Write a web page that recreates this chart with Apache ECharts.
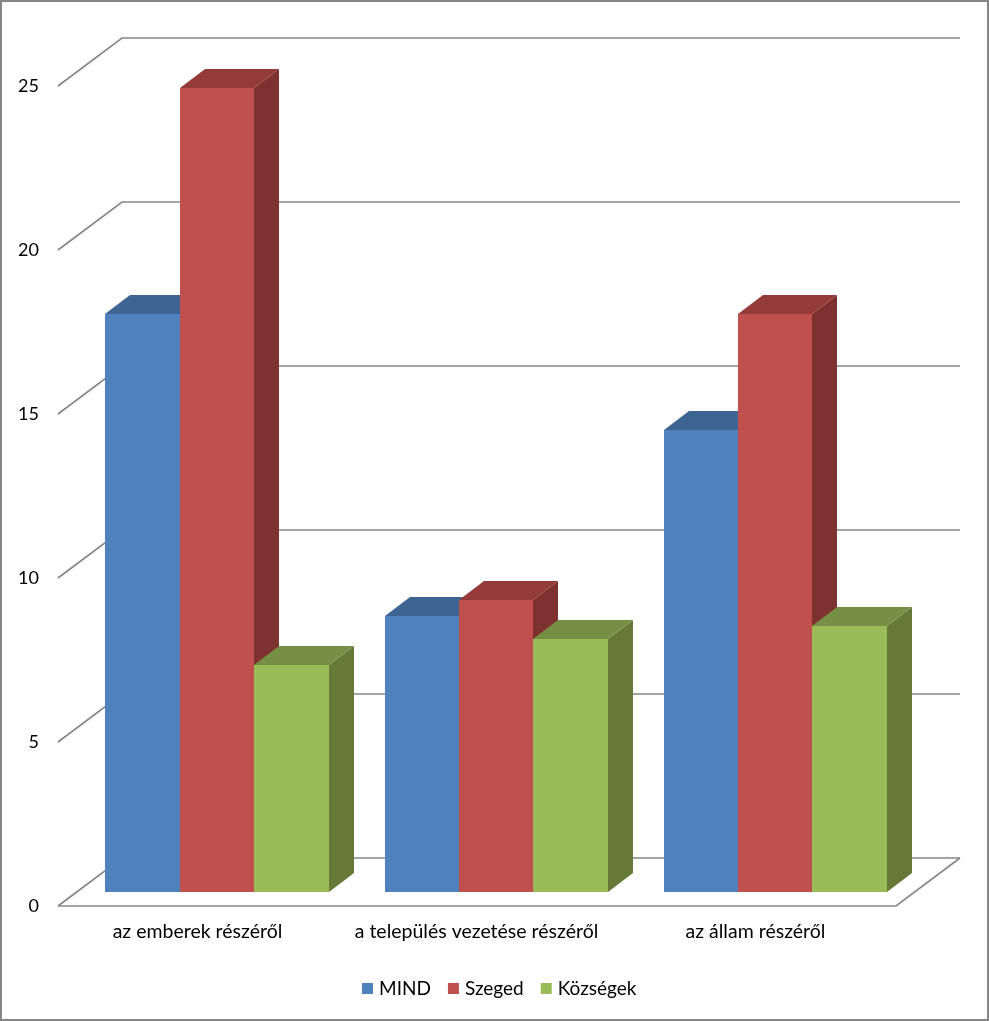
<!DOCTYPE html>
<html>
<head>
<meta charset="utf-8">
<style>html,body{margin:0;padding:0;background:#fff}#c{width:989px;height:1021px}</style>
<script src="https://cdn.jsdelivr.net/npm/echarts@6/dist/echarts.min.js"></script>
</head>
<body>
<div id="c"></div>
<script>
const categories = ['az emberek részéről', 'a település vezetése részéről', 'az állam részéről'];
const mind = [17.62, 8.4, 14.1];
const szeged = [24.5, 8.9, 17.62];
const kozsegek = [6.93, 7.7, 8.1];
const yTicks = [0, 5, 10, 15, 20, 25];
const palette = {
  MIND: ['#4F81BD', '#3E6592', '#3E6592'],
  Szeged: ['#C0504D', '#943B39', '#7D3230'],
  'Községek': ['#9BBB59', '#778F44', '#657A38']
};
const FONT = 'Lato';
const WALL_DX = 64, WALL_DY = 48;
const BAR_DX = 25, BAR_DY = 19, BAR_SHIFT_X = 19.6, BAR_SHIFT_Y = 14, BAR_W = 74.4;
const LINE = '#868686';

function wallItem(params, api) {
  const v = api.value(0);
  const cs = params.coordSys;
  const y = api.coord([0, v])[1];
  const x0 = cs.x, x1 = cs.x + cs.width + 1;
  const children = [{
    type: 'polyline',
    shape: { points: [[x0, y], [x0 + WALL_DX, y - WALL_DY], [x1 + WALL_DX, y - WALL_DY]] },
    style: { stroke: LINE, lineWidth: 1.6, fill: null }
  }];
  if (v === 0) {
    children.push({
      type: 'polyline',
      shape: { points: [[x0, y], [x1, y], [x1 + WALL_DX, y - WALL_DY]] },
      style: { stroke: LINE, lineWidth: 1.6, fill: null }
    });
  }
  return { type: 'group', children };
}

function barSeries(name, values, order) {
  const cols = palette[name];
  return {
    name, type: 'custom', coordinateSystem: 'cartesian2d', z: 2, silent: true,
    itemStyle: { color: cols[0] },
    encode: { x: 0, y: 1 },
    data: values.map((v, i) => [i, v]),
    renderItem(params, api) {
      const top = api.coord([api.value(0), api.value(1)]);
      const base = api.coord([api.value(0), 0]);
      const l = Math.round(top[0] + BAR_SHIFT_X + (order - 1.5) * BAR_W);
      const r = Math.round(top[0] + BAR_SHIFT_X + (order - 0.5) * BAR_W);
      const t = Math.round(top[1] - BAR_SHIFT_Y);
      const b = Math.round(base[1] - BAR_SHIFT_Y);
      return {
        type: 'group',
        children: [
          { type: 'polygon', shape: { points: [[r, t], [r + BAR_DX, t - BAR_DY], [r + BAR_DX, b - BAR_DY], [r, b]] }, style: { fill: cols[2] } },
          { type: 'polygon', shape: { points: [[l, t], [l + BAR_DX, t - BAR_DY], [r + BAR_DX, t - BAR_DY], [r, t]] }, style: { fill: cols[1] } },
          { type: 'rect', shape: { x: l, y: t, width: r - l, height: b - t }, style: { fill: cols[0] } }
        ]
      };
    }
  };
}

const chart = echarts.init(document.getElementById('c'), null, { renderer: 'canvas', width: 989, height: 1021 });
chart.setOption({
  animation: false,
  backgroundColor: '#fff',
  textStyle: { fontFamily: FONT },
  graphic: [{
    type: 'rect', z: 100, silent: true,
    shape: { x: 1, y: 1, width: 987, height: 1019 },
    style: { fill: null, stroke: '#868686', lineWidth: 2 }
  }],
  grid: { left: 58, top: 86, width: 837, height: 820, containLabel: false },
  xAxis: {
    type: 'category', data: categories,
    axisLine: { show: false }, axisTick: { show: false }, splitLine: { show: false },
    axisLabel: { color: '#000', fontSize: 19.5, fontFamily: FONT, margin: 16, interval: 0 }
  },
  yAxis: {
    type: 'value', min: 0, max: 25, interval: 5,
    axisLine: { show: false }, axisTick: { show: false }, splitLine: { show: false },
    axisLabel: { color: '#000', fontSize: 18, fontFamily: FONT, margin: 19, padding: [3, 0, 0, 0] }
  },
  legend: {
    left: 357, top: 974, icon: 'rect', itemWidth: 11, itemHeight: 11, itemGap: 17,
    textStyle: { color: '#000', fontSize: 19, fontFamily: FONT, padding: [0, 0, 0, 1] },
    data: ['MIND', 'Szeged', 'Községek']
  },
  series: [
    {
      name: 'walls', type: 'custom', coordinateSystem: 'cartesian2d', z: 1, silent: true,
      encode: { y: 0 }, data: yTicks.map(v => [v]), renderItem: wallItem
    },
    barSeries('MIND', mind, 0),
    barSeries('Szeged', szeged, 1),
    barSeries('Községek', kozsegek, 2)
  ]
});
</script>
</body>
</html>
